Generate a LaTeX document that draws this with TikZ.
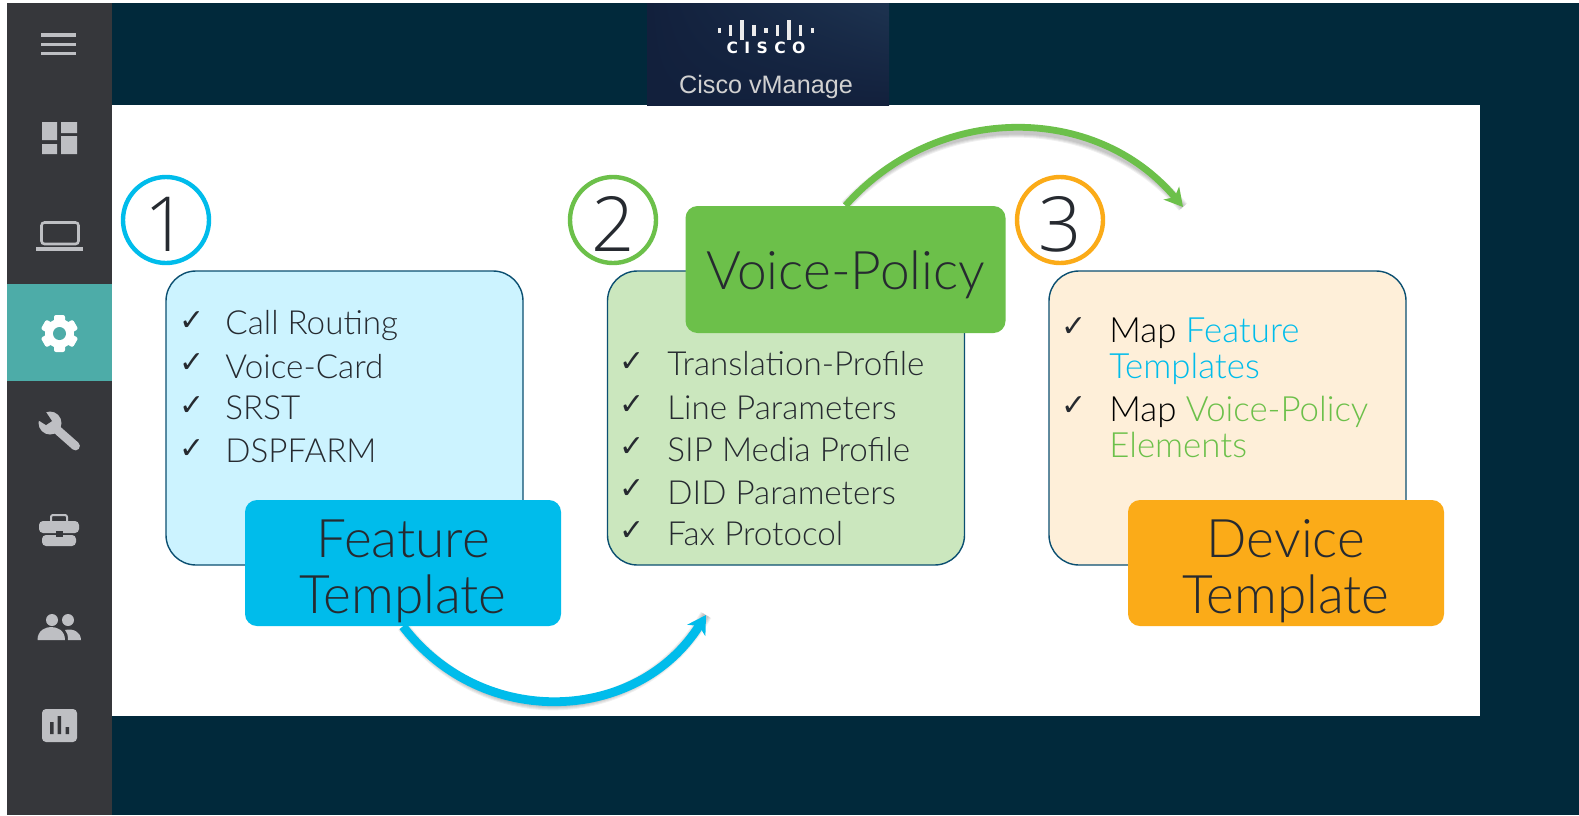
\documentclass[tikz,border=0pt]{standalone}
\usepackage{fontspec}
\setmainfont{Lato}[UprightFont=* Light]
\newfontfamily\dejavu{DejaVu Sans}
\newfontfamily\libsans{Liberation Sans}
\newfontfamily\digitfont{Open Sans}[UprightFont=* Light]
\usetikzlibrary{arrows.meta,shadings}
\pgfdeclarelayer{base}\pgfdeclarelayer{links}
\pgfsetlayers{base,links,main}
\definecolor{navy}{HTML}{01293B}
\definecolor{side}{HTML}{36373B}
\definecolor{teal1}{HTML}{4DACA8}
\definecolor{icon}{HTML}{BEBFC3}
\definecolor{cblue}{HTML}{00BCEB}
\definecolor{cgreen}{HTML}{6CC04A}
\definecolor{camber}{HTML}{FBAB18}
\definecolor{ink}{HTML}{262A30}
\definecolor{edge}{HTML}{0B4F71}
\definecolor{lblue}{HTML}{CCF3FF}
\definecolor{lgreen}{HTML}{CBE7BE}
\definecolor{lamber}{HTML}{FEEFD9}
\definecolor{logoA}{HTML}{12203C}
\definecolor{logoB}{HTML}{1D3350}
\tikzset{
 x=0.5pt,y=-0.5pt,
 panelbox/.style={draw=edge,line width=0.7pt,rounded corners=15pt,minimum width=178.5pt,minimum height=147pt,inner sep=0pt},
 tagbox/.style={rounded corners=6pt,minimum width=158pt,minimum height=63pt,inner sep=0pt,text=ink,font=\fontsize{26.6}{27.8}\selectfont,align=center},
 numring/.style={circle,draw,line width=2.2pt,minimum size=43pt,inner sep=0pt,text=ink,font=\digitfont\fontsize{38}{40}\selectfont,text height=31pt,text depth=0pt},
 item/.style={anchor=west,inner sep=0pt,text=ink,font=\fontsize{16.6}{18}\selectfont,text height=12pt,text depth=3pt},
 mapitem/.style={anchor=north west,inner sep=0pt,align=left,font=\fontsize{17.4}{18}\selectfont},
 tick/.style={anchor=center,inner sep=0pt,text=ink,font=\dejavu\fontsize{15}{15}\selectfont},
 shadowline/.style={draw=black,opacity=0.06,line cap=butt},
}
\begin{document}
\begin{tikzpicture}
\useasboundingbox (0,0) rectangle (1579,815);
\begin{pgfonlayer}{base}
\fill[white] (0,0) rectangle (1579,815);
\fill[navy] (112,3) rectangle (1579,815);
\fill[white] (112,105) rectangle (1480,716);
\fill[side] (7,3) rectangle (112,815);
\fill[teal1] (7,283.5) rectangle (112,381);
\shade[lower left=logoA,lower right=logoA,upper left=logoA,upper right=logoB] (647,3) rectangle (889,105);
\end{pgfonlayer}
% logo
\foreach \px/\ph in {719.5/5,730.5/11,742/20,754/11,766/5,777.5/11,789/20,800.5/11,812.5/5}
  \fill[white!92!black] (\px-1.7,30-\ph/2) rectangle (\px+1.7,30+\ph/2);
\node[inner sep=0pt,text=white] (ciscoword) at (766,48) {\dejavu\bfseries\fontsize{7.8}{9}\selectfont C\hspace{3.2pt}I\hspace{3.2pt}S\hspace{3.2pt}C\hspace{3.2pt}O};
\node[inner sep=0pt,text=white!82!black] (vmanage) at (766,87) {\libsans\fontsize{12.6}{14}\selectfont Cisco vManage};
% sidebar icons
\foreach \a/\b in {33/37,42.5/46,51.5/55} \fill[icon] (41,\a) rectangle (76,\b);
\fill[icon] (42,122) rectangle (57,140) (61,122) rectangle (77,133) (42,144) rectangle (57,154) (61,136) rectangle (77,154);
\draw[icon,line width=1.3pt,rounded corners=1.5pt] (41.5,244) rectangle (78.5,222.5);
\fill[icon] (36,247) rectangle (83,250.5);
% gear
\fill[white] (59.5,333.5) circle (14.5);
\foreach \g in {0,60,...,300}
  \fill[white,rotate around={\g:(59.5,333.5)},rounded corners=1pt] (54,315) rectangle (65,325);
\fill[teal1] (59.5,333.5) circle (6.5);
% wrench
\draw[icon,line width=4.4pt,line cap=round] (54,427) -- (75.5,446);
\fill[icon] (50,423) circle (11.5);
\fill[side] (38,411) -- (46,412) -- (52,421) -- (46,425) -- (38,420) -- cycle;
% briefcase
\draw[icon,line width=1pt,rounded corners=1pt] (51,521) -- (51,515) -- (67,515) -- (67,521);
\fill[icon,rounded corners=2pt] (39,533) -- (39,521) -- (79,521) -- (79,533) -- cycle;
\fill[icon,rounded corners=2pt] (42,535) -- (76,535) -- (76,546) -- (42,546) -- cycle;
\fill[side] (56,531) rectangle (63,537);
% people
\fill[icon] (52,620) circle (6) (68,620) circle (6);
\fill[icon] (37.5,640) .. controls (37.5,630) and (46,627) .. (51,627) .. controls (57,627) and (65,630) .. (65,640) -- cycle;
\fill[icon] (68,640) .. controls (68,635) and (67,632) .. (65,630) .. controls (73,628) and (81,632) .. (81,640) -- cycle;
% chart
\fill[icon,rounded corners=2pt] (42,709) rectangle (77,742);
\fill[side] (50,722) rectangle (53.5,734) (57.5,716) rectangle (61,734) (65.5,727) rectangle (69,734);
% numbered rings
\node[numring,draw=cblue] (n1) at (166,220) {1};
\node[numring,draw=cgreen] (n2) at (613,220) {2};
\node[numring,draw=camber] (n3) at (1060,220) {3};
% content boxes
\node[panelbox,fill=lblue] (b1) at (344.5,418) {};
\node[panelbox,fill=lgreen] (b2) at (786,418) {};
\node[panelbox,fill=lamber] (b3) at (1227.5,418) {};
% labels
\node[tagbox,fill=cblue] (feat) at (403,563) {\rule{0pt}{27pt}Feature\\Template};
\node[tagbox,fill=cgreen,minimum width=160pt,minimum height=63.5pt] (voice) at (845.5,269.5) {\rule{0pt}{25pt}Voice-Policy};
\node[tagbox,fill=camber] (dev) at (1286,563) {\rule{0pt}{27pt}Device\\Template};
% list 1
\foreach \nm/\ty/\ky/\tx in {a/325/321/Call Routing,b/369/363.5/Voice-Card,c/410/406/SRST,d/453/449/DSPFARM}{
  \node[tick] (t1\nm) at (192.5,\ky) {✓};
  \node[item] (i1\nm) at (225,\ty) {\tx};
}
\foreach \nm/\ty/\ky/\tx in {a/366.6/362.5/Translation-Profile,b/410/405/Line Parameters,c/452/447/SIP Media Profile,d/495.5/489.5/DID Parameters,e/536/531/Fax Protocol}{
  \node[tick] (t2\nm) at (632.5,\ky) {✓};
  \node[item] (i2\nm) at (667,\ty) {\tx};
}
\node[tick] (t3a) at (1074.5,327) {✓};
\node[mapitem] (i3a) at (1109,317) {\textcolor{black}{Map} \textcolor{cblue}{Feature}\\\textcolor{cblue}{Templates}};
\node[tick] (t3b) at (1074.5,406) {✓};
\node[mapitem] (i3b) at (1109,396) {\textcolor{black}{Map} \textcolor{cgreen}{Voice-Policy}\\\textcolor{cgreen}{Elements}};
% arrows
\coordinate (a1e) at (706,615);
\coordinate (a2e) at (1183,207);
\begin{pgfonlayer}{links}
\foreach \w in {3,4,5,6}
  \draw[shadowline,line width=\w pt,shift={(2,5)}] (feat.south) .. controls (483,731) and (638,723) .. (a1e);
\foreach \w in {2.4,3.4,4.4,5.4}
  \draw[shadowline,line width=\w pt,shift={(2,5)}] (voice.north) .. controls (937,102) and (1096,103) .. (a2e);
\draw[cblue,line width=4.4pt,-{Stealth[length=9pt,width=10.5pt,inset=2.5pt]}] (feat.south) .. controls (483,731) and (638,723) .. (a1e);
\draw[cgreen,line width=3.4pt,-{Stealth[length=9pt,width=10pt,inset=2.5pt]}] (voice.north) .. controls (937,102) and (1096,103) .. (a2e);
\end{pgfonlayer}
\end{tikzpicture}
\end{document}
